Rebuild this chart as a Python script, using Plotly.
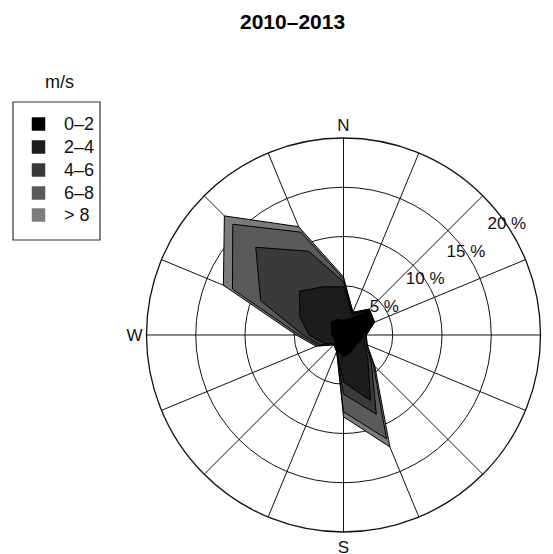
import numpy as np
import plotly.graph_objects as go

directions = ["N", "NNE", "NE", "ENE", "E", "ESE", "SE", "SSE",
              "S", "SSW", "SW", "WSW", "W", "WNW", "NW", "NNW"]
bearings = [i * 22.5 for i in range(16)]

speed_bins = ["0\u20132", "2\u20134", "4\u20136", "6\u20138", "> 8"]
freq_0_2 = [1.5, 1.8, 3.5, 3.3, 2.0, 1.8, 1.6, 1.9, 2.2, 1.7, 1.2, 1.0, 1.2, 1.3, 1.8, 1.7]
freq_2_4 = [3.4, 0.5, 0.1, 0.1, 0.2, 0.5, 1.9, 5.3, 2.6, 0.1, 0.1, 1.2, 2.3, 3.5, 4.5, 3.6]
freq_4_6 = [0.5, 0.1, 0.1, 0.0, 0.1, 0.2, 0.5, 1.5, 1.2, 0.0, 0.1, 0.4, 0.6, 4.3, 6.3, 3.9]
freq_6_8 = [0.3, 0.1, 0.0, 0.0, 0.0, 0.1, 0.3, 2.7, 1.8, 0.0, 0.0, 0.2, 0.4, 3.1, 3.3, 2.1]
freq_gt8 = [0.2, 0.0, 0.0, 0.0, 0.0, 0.0, 0.2, 0.9, 0.5, 0.0, 0.0, 0.2, 0.3, 1.0, 1.2, 0.6]

colors = ["#000000", "#1c1c1c", "#3a3a3a", "#5a5a5a", "#7c7c7c"]
ring_values = [5, 10, 15, 20]
ring_labels = ["5 %", "10 %", "15 %", "20 %"]
title_text = "2010\u20132013"
legend_title = "m/s"

FONT = "Liberation Sans, Arial, sans-serif"

freqs = np.array([freq_0_2, freq_2_4, freq_4_6, freq_6_8, freq_gt8])
cum = np.cumsum(freqs, axis=0)

fig = go.Figure()
for k in range(len(speed_bins) - 1, -1, -1):
    r = list(cum[k]) + [cum[k][0]]
    th = bearings + [bearings[0]]
    fig.add_trace(go.Scatterpolar(
        r=r, theta=th, mode="lines", fill="toself",
        fillcolor=colors[k], line=dict(color="#000000", width=1),
        name=speed_bins[k], showlegend=False, hoverinfo="skip"))

fig.add_trace(go.Scatterpolar(
    r=ring_values, theta=[56] * len(ring_values), mode="text",
    text=ring_labels, textfont=dict(family=FONT, size=17, color="#111"),
    showlegend=False, hoverinfo="skip"))

# page body has an 8px margin; work in window pixels and convert
OFF = 8
W, H = 553 - OFF, 554 - OFF


def px(x):
    return (x - OFF) / W


def py(y):
    return 1 - (y - OFF) / H


cx, cy, R = 343.5, 335, 197
fig.update_layout(
    width=W, height=H,
    margin=dict(l=0, r=0, t=0, b=0),
    paper_bgcolor="white", plot_bgcolor="white",
    showlegend=False,
    polar=dict(
        domain=dict(x=[px(cx - R), px(cx + R)],
                    y=[py(cy + R), py(cy - R)]),
        bgcolor="white",
        angularaxis=dict(
            direction="clockwise", rotation=90,
            tickmode="array", tickvals=bearings,
            ticktext=[d if d in ("N", "E", "S", "W") else "" for d in directions],
            ticks="", showline=True, linecolor="#111", linewidth=1.3,
            gridcolor="#111", gridwidth=1.2, layer="above traces",
            tickfont=dict(family=FONT, size=17, color="#111")),
        radialaxis=dict(
            range=[0, 20], tickvals=ring_values, showticklabels=False,
            ticks="", showline=False, gridcolor="#111", gridwidth=1.2,
            layer="above traces"),
    ),
)

fig.add_annotation(x=px(292), y=py(21), xref="paper", yref="paper",
                   xanchor="center", yanchor="middle",
                   text="<b>" + title_text + "</b>", showarrow=False,
                   font=dict(family=FONT, size=21, color="#000"))

fig.add_annotation(x=px(59), y=py(82), xref="paper", yref="paper",
                   xanchor="center", yanchor="middle",
                   text=legend_title, showarrow=False,
                   font=dict(family=FONT, size=18, color="#111"))
fig.add_shape(type="rect", xref="paper", yref="paper",
              x0=px(13), x1=px(100), y0=py(240), y1=py(102),
              line=dict(color="#333", width=1.2), fillcolor="rgba(0,0,0,0)")
rows_y = [124, 147, 170, 193, 215]
for k, lab in enumerate(speed_bins):
    yy = rows_y[k]
    fig.add_shape(type="rect", xref="paper", yref="paper",
                  x0=px(32), x1=px(45), y0=py(yy + 6.5), y1=py(yy - 6.5),
                  line=dict(color=colors[k], width=0.5), fillcolor=colors[k])
    fig.add_annotation(x=px(62), y=py(yy), xref="paper", yref="paper",
                       text=lab, showarrow=False, xanchor="left", yanchor="middle",
                       font=dict(family=FONT, size=18, color="#111"))

fig.write_html("out.html")
